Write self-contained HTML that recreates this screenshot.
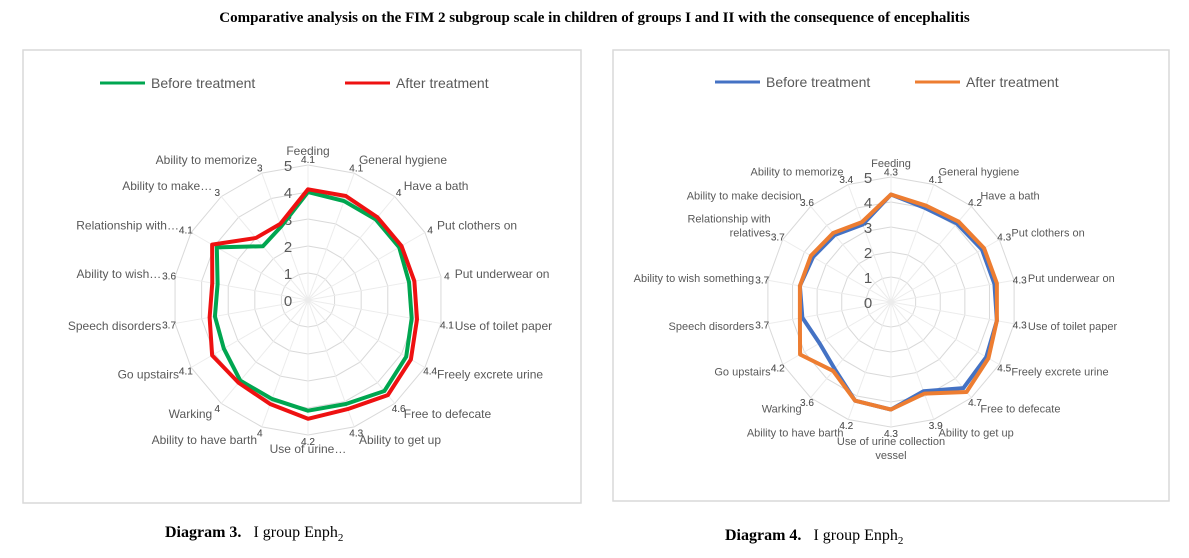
<!DOCTYPE html>
<html><head><meta charset="utf-8">
<style>
body{margin:0;width:1189px;height:558px;background:#fff;overflow:hidden;position:relative;font-family:"Liberation Sans",sans-serif}
.title{position:absolute;top:10px;left:0;width:1189px;text-align:center;font-family:"Liberation Serif",serif;font-weight:bold;font-size:15px;color:#000}
.cap{position:absolute;font-family:"Liberation Serif",serif;font-size:16px;color:#000}
svg{position:absolute;left:0;top:0}
</style></head><body>
<div class="title">Comparative analysis on the FIM 2 subgroup scale in children of groups I and II with the consequence of encephalitis</div>
<div class="cap" style="left:165px;top:524px"><b>Diagram 3.</b>&nbsp;&nbsp; I group Enph<sub style="font-size:11px">2</sub></div>
<div class="cap" style="left:725px;top:527px"><b>Diagram 4.</b>&nbsp;&nbsp; I group Enph<sub style="font-size:11px">2</sub></div>
<svg id="s" width="1189" height="558"></svg>
<script>
const cats1=["Feeding","General hygiene","Have a bath","Put clothers  on","Put underwear  on","Use of toilet paper","Freely excrete urine","Free to defecate","Ability to get up","Use of urine…","Ability to have  barth","Warking","Go upstairs","Speech disorders","Ability to wish…","Relationship with…","Ability to make…","Ability to memorize"];
const before1=[4.0,3.9,3.9,3.9,3.8,3.9,4.2,4.4,4.1,4.1,3.9,3.9,3.6,3.5,3.4,3.9,2.6,2.9];
const after1=[4.1,4.1,4.0,4.0,4.0,4.1,4.4,4.6,4.3,4.4,4.1,4.0,4.1,3.7,3.6,4.1,3.0,3.0];
const vals1=["4.1","4.1","4","4","4","4.1","4.4","4.6","4.3","4.2","4","4","4.1","3.7","3.6","4.1","3","3"];
const cats2=["Feeding","General hygiene","Have a bath","Put clothers on","Put underwear  on","Use of toilet paper","Freely excrete urine","Free to defecate","Ability to get up","Use of urine collection|vessel","Ability to have barth","Warking","Go upstairs","Speech disorders","Ability to wish something","Relationship with|relatives","Ability to make decision","Ability to memorize"];
const before2=[4.3,4.0,4.1,4.2,4.2,4.3,4.4,4.5,3.8,4.3,4.2,3.5,3.3,3.6,3.7,3.6,3.5,3.3];
const after2=[4.3,4.1,4.2,4.3,4.3,4.3,4.5,4.7,3.9,4.3,4.2,3.6,4.2,3.7,3.7,3.7,3.6,3.4];
const ticks=[0,1,2,3,4,5];
const NS="http://www.w3.org/2000/svg";
const s=document.getElementById('s');
function el(t,a,p){const e=document.createElementNS(NS,t);for(const k in a)e.setAttribute(k,a[k]);(p||s).appendChild(e);return e;}
function txt(x,y,str,size,anchor,fill,p){const e=el('text',{x:x,y:y,'font-size':size,'text-anchor':anchor,fill:fill},p);e.textContent=str;return e;}
function chart(cfg){
  const g=el('g',{});
  
  
  const b=el('rect',{x:cfg.box[0],y:cfg.box[1],width:cfg.box[2],height:cfg.box[3],fill:'#fff',stroke:'#d9d9d9','stroke-width':1.5},g);
  
  
  const n=cfg.cats.length,cx=cfg.cx,cy=cfg.cy,u=cfg.unit;
  const pt=(i,v)=>{const a=i*2*Math.PI/n;return [cx+Math.sin(a)*v*u,cy-Math.cos(a)*v*u];};
  ticks.forEach(t=>{if(t===0)return;const p=[];for(let i=0;i<n;i++)p.push(pt(i,t).join(','));
    const r=el('polygon',{points:p.join(' '),fill:'none',stroke:'#d9d9d9','stroke-width':1},g);
    
    });
  for(let i=0;i<n;i++){const q=pt(i,5);el('line',{x1:cx,y1:cy,x2:q[0],y2:q[1],stroke:'#ececec','stroke-width':1},g);}
  ticks.forEach(t=>{const e=txt(cx-cfg.tickDx,cy-t*u+6,String(t),cfg.tickSize,'middle','#595959',g);
    
    });
  cfg.series.forEach(sr=>{const p=sr.data.map((v,i)=>pt(i,v).join(','));
    const pl=el('polygon',{points:p.join(' '),fill:'none',stroke:sr.color,'stroke-width':sr.w,'stroke-linejoin':'round'},g);
    
    
    sr.data.forEach((v,i)=>{const a=i*2*Math.PI/n;const q=pt(i,5.15);
      const e=txt(q[0]+Math.sin(a)*2,q[1]+4-Math.cos(a)*2,cfg.valTxt?cfg.valTxt[i]:String(v),cfg.valSize,'middle','#595959',g);
      
      });
  });
  cfg.cats.forEach((c,i)=>{const a=i*2*Math.PI/n;const q=pt(i,5);const sn=Math.sin(a),cs=Math.cos(a);
    const x=q[0]+sn*cfg.lblOff,y=q[1]-cs*cfg.lblOff+4;
    const anc=Math.abs(sn)<0.2?'middle':(sn>0?'start':'end');
    const lines=c.split('|');
    lines.forEach((ln,k)=>{const e=txt(x,y+k*14-(lines.length-1)*(cs>0?14:0),ln,cfg.lblSize,anc,'#595959',g);
      
      });
  });
  cfg.legend.forEach(l=>{el('line',{x1:l.x,y1:cfg.legY,x2:l.x+45,y2:cfg.legY,stroke:l.color,'stroke-width':3},g);
    const e=txt(l.x+51,cfg.legY+5,l.label,14,'start','#595959',g);
    
    });
}
chart({name:'radar-chart-diagram-3',box:[23,50,558,453],cats:cats1,cx:308,cy:300,unit:27,tickDx:20,tickSize:15,valSize:10,lblSize:12,lblOff:14,valTxt:vals1,
  series:[{name:'series-before-treatment',data:before1,color:'#00a650',w:4},{name:'series-after-treatment',data:after1,color:'#ee1111',w:4}],
  legY:83,legend:[{x:100,color:'#00a650',label:'Before treatment'},{x:345,color:'#ee1111',label:'After treatment'}]});
chart({name:'radar-chart-diagram-4',box:[613,50,556,451],cats:cats2,cx:891,cy:302,unit:25,tickDx:23,tickSize:15,valSize:10,lblSize:11,lblOff:14,valTxt:after2.map(String),
  series:[{name:'series-before-treatment',data:before2,color:'#4472c4',w:4},{name:'series-after-treatment',data:after2,color:'#ed7d31',w:4}],
  legY:82,legend:[{x:715,color:'#4472c4',label:'Before treatment'},{x:915,color:'#ed7d31',label:'After treatment'}]});
</script>
</body></html>
